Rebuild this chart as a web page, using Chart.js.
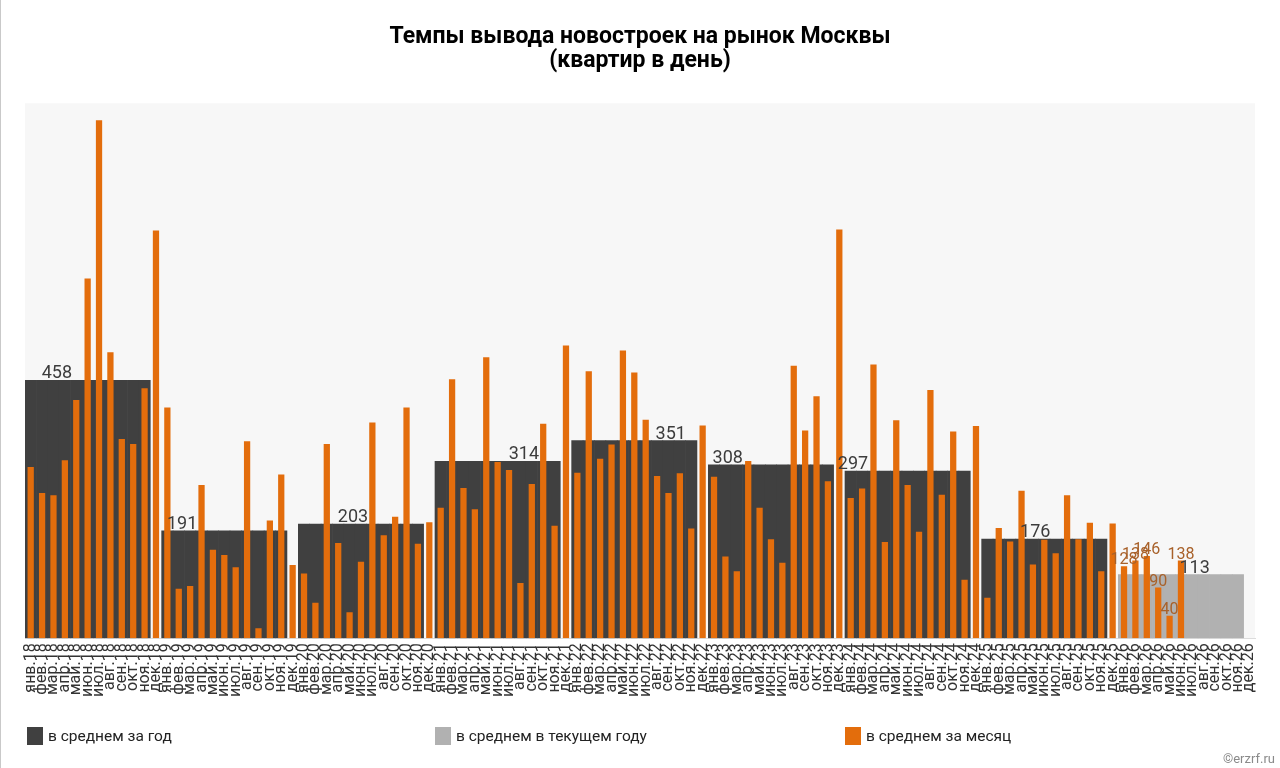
<!DOCTYPE html>
<html lang="ru">
<head>
<meta charset="utf-8">
<title>Темпы вывода новостроек на рынок Москвы</title>
<script src="https://cdn.jsdelivr.net/npm/chart.js@4.4.1/dist/chart.umd.min.js"></script>
<style>
  html, body { margin: 0; padding: 0; background: #fff; }
  #wrap { position: relative; width: 1280px; height: 768px; font-family: Roboto, sans-serif; overflow: hidden; }
  #chart { position: absolute; left: 0; top: 0; }
  .edge { position: absolute; left: 0; top: 0; width: 1px; height: 768px; background: #c9c9c9; }
  .item { position: absolute; top: 727px; display: flex; align-items: center; font-size: 15.5px; color: #222; }
  .box { width: 16px; height: 18px; margin-right: 5px; }
  .copy { position: absolute; right: 5px; top: 751px; font-size: 13px; color: #8a8a8a; }
</style>
</head>
<body>
<div id="wrap">
  <canvas id="chart" width="1280" height="768"></canvas>
  <div class="edge"></div>
  <div class="item" style="left:27px"><span class="box" style="background:#404040"></span>в среднем за год</div>
  <div class="item" style="left:435px"><span class="box" style="background:#b1b1b1"></span>в среднем в текущем году</div>
  <div class="item" style="left:845px"><span class="box" style="background:#e36d0c"></span>в среднем за месяц</div>
  <div class="copy">©erzrf.ru</div>
</div>
<script>
// month names and years for the axis
const months = ['янв', 'фев', 'мар', 'апр', 'май', 'июн', 'июл', 'авг', 'сен', 'окт', 'ноя', 'дек'];
const years = ['18', '19', '20', '21', '22', '23', '24', '25', '26'];

// apartments per day, monthly average
const m2018 = [304, 258, 254, 316, 423, 639, 920, 508, 354, 345, 444, 724];
const m2019 = [410, 88, 93, 272, 157, 148, 126, 350, 18, 209, 291, 130];
const m2020 = [115, 63, 345, 169, 46, 136, 383, 183, 216, 410, 168, 206];
const m2021 = [232, 460, 267, 229, 499, 313, 299, 98, 274, 381, 200, 520];
const m2022 = [294, 474, 319, 344, 511, 472, 388, 288, 258, 293, 195, 378];
const m2023 = [287, 145, 119, 315, 232, 176, 134, 484, 369, 430, 279, 726];
const m2024 = [249, 266, 486, 171, 387, 272, 189, 441, 255, 367, 104, 377];
const m2025 = [72, 196, 172, 262, 131, 175, 151, 254, 176, 205, 119, 204];
const m2026 = [128, 138, 146, 90, 40, 138, null, null, null, null, null, null];

// yearly averages, last one is the current year
const yearAvg = [458, 191, 203, 314, 351, 308, 297, 176, 113];

const monthLabels = years.flatMap(y => months.map(m => m + '.' + y));
const monthly = [].concat(m2018, m2019, m2020, m2021, m2022, m2023, m2024, m2025, m2026);
// each yearly block covers jan..nov of its year
const yearly = yearAvg.flatMap(v => months.map((m, k) => (k < 11 ? v : null)));
const currentYearStart = 8 * 12;

const ORANGE = '#e36d0c';
const DARK = '#404040';
const LIGHT = '#b1b1b1';

const plotBackground = {
  id: 'plotBackground',
  beforeDraw(chart) {
    const { ctx, chartArea: a } = chart;
    ctx.save();
    ctx.fillStyle = '#f7f7f7';
    ctx.fillRect(a.left, a.top, a.right - a.left, a.bottom - a.top);
    ctx.restore();
  }
};

// where the yearly labels sit (month index on the x axis)
const avgLabelAt = [2.3, 13.3, 28.3, 43.3, 56.2, 61.2, 72.2, 88.2, 102.2];

const valueLabels = {
  id: 'valueLabels',
  afterDatasetsDraw(chart) {
    const { ctx } = chart;
    const x = chart.scales.x, y = chart.scales.y;
    ctx.save();
    ctx.textAlign = 'center';
    ctx.textBaseline = 'alphabetic';
    // monthly labels for the current year
    ctx.font = '16px Roboto';
    ctx.fillStyle = '#a8612a';
    const bars = chart.getDatasetMeta(0).data;
    for (let i = currentYearStart; i < monthly.length; i++) {
      if (monthly[i] == null) continue;
      ctx.fillText(String(monthly[i]), bars[i].x, bars[i].y - 2);
    }
    // yearly averages
    ctx.font = '18px Roboto';
    ctx.fillStyle = '#3c3c3c';
    yearAvg.forEach((v, i) => {
      ctx.fillText(String(v), x.getPixelForValue(avgLabelAt[i]), y.getPixelForValue(v) - 2);
    });
    ctx.restore();
  }
};

new Chart('chart', {
  type: 'bar',
  data: {
    labels: monthLabels,
    datasets: [{
      label: 'в среднем за месяц',
      data: monthly,
      backgroundColor: ORANGE,
      grouped: false,
      barPercentage: 0.55,
      categoryPercentage: 1,
      order: 0
    }, {
      label: 'в среднем за год',
      data: yearly,
      backgroundColor: ctx => (ctx.dataIndex >= currentYearStart ? LIGHT : DARK),
      grouped: false,
      barPercentage: 1,
      categoryPercentage: 1,
      order: 1
    }]
  },
  options: {
    responsive: false,
    devicePixelRatio: 1,
    animation: false,
    layout: { padding: { left: 25, right: 25, top: 0, bottom: 66 } },
    plugins: {
      legend: { display: false },
      tooltip: { enabled: false },
      title: {
        display: true,
        text: ['Темпы вывода новостроек на рынок Москвы', '(квартир в день)'],
        color: '#000',
        font: { family: 'Roboto', size: 23, weight: 'bold', lineHeight: 1.05 },
        padding: { top: 25, bottom: 30 }
      }
    },
    scales: {
      x: {
        grid: { display: false, drawTicks: false },
        border: { display: true, color: '#dcdcdc' },
        ticks: {
          autoSkip: false,
          maxRotation: 90,
          minRotation: 90,
          padding: 5,
          color: '#333',
          font: { family: 'Roboto', size: 16 }
        }
      },
      y: {
        display: false,
        min: 0,
        max: 950
      }
    }
  },
  plugins: [plotBackground, valueLabels]
});
</script>
</body>
</html>
